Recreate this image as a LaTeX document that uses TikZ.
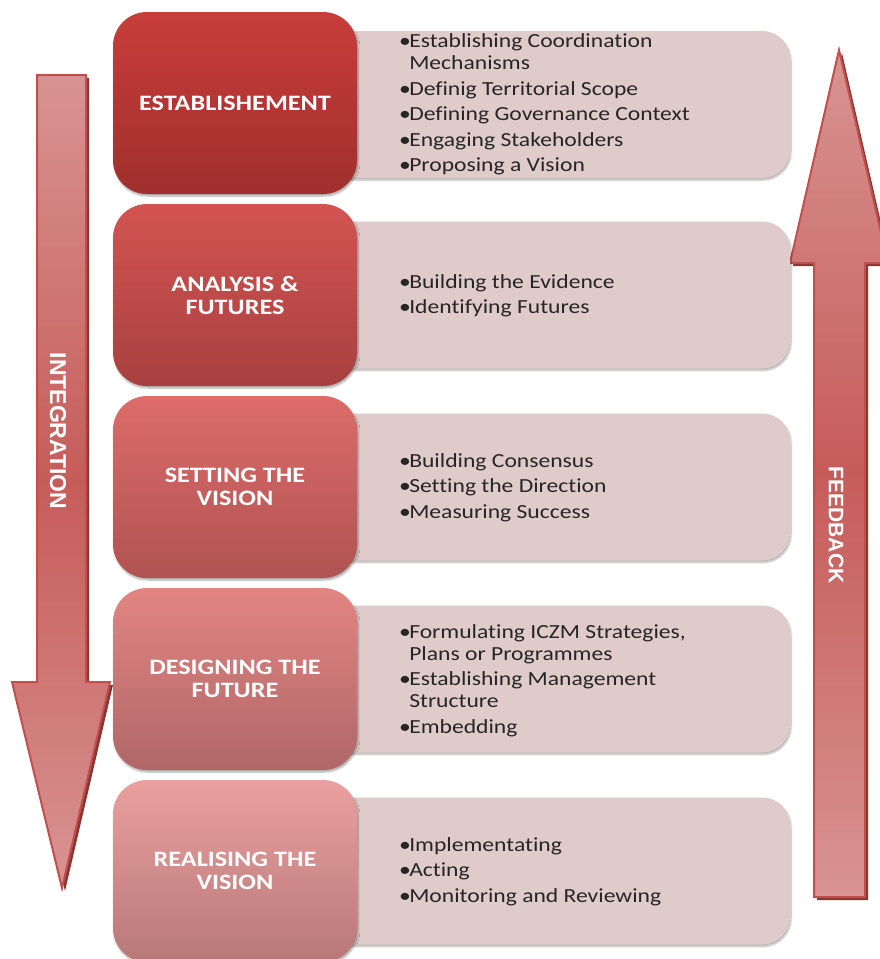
\documentclass[tikz,border=0pt]{standalone}
\usepackage{fontspec}
\setmainfont{Carlito}[Ligatures=NoCommon]
\newfontfamily\arialfont{Liberation Sans}
\usetikzlibrary{shadows.blur}
\definecolor{panelfill}{HTML}{E0CBCB}
\definecolor{txt}{HTML}{262626}
\definecolor{arrowedge}{HTML}{C0504D}
\definecolor{arrowdark}{HTML}{8B3432}
\definecolor{arlight}{HTML}{D89492}
\definecolor{armid}{HTML}{C65C5A}
\definecolor{bAt}{HTML}{C83D3B}\definecolor{bAb}{HTML}{A02F2D}
\definecolor{bBt}{HTML}{D35452}\definecolor{bBb}{HTML}{A84040}
\definecolor{bCt}{HTML}{DD6C6A}\definecolor{bCb}{HTML}{B05352}
\definecolor{bDt}{HTML}{E28583}\definecolor{bDb}{HTML}{B06767}
\definecolor{bEt}{HTML}{E9A09F}\definecolor{bEb}{HTML}{B87878}
\tikzset{
  stagebox/.style={rectangle, rounded corners=34pt, minimum width=244pt, minimum height=182pt,
    inner sep=0pt, draw=none, text=white, align=center,
    font=\fontsize{22}{23}\selectfont\bfseries,
    blur shadow={shadow xshift=1pt, shadow yshift=-2pt, shadow blur steps=6, shadow opacity=35}},
  panelbox/.style={rectangle, rounded corners=28pt, minimum width=490pt, minimum height=147pt,
    inner sep=0pt, fill=panelfill, draw=none,
    blur shadow={shadow xshift=1pt, shadow yshift=-2pt, shadow blur steps=6, shadow opacity=30}},
  paneltext/.style={anchor=west, align=left, text=txt, inner sep=0pt, xscale=1.18,
    font=\fontsize{20}{25.4}\selectfont},
  arrowshape/.style={draw=arrowedge, line width=2pt, line join=miter,
    top color=arlight, bottom color=arlight, middle color=armid},
  arrowshadow/.style={fill=arrowdark, draw=none},
  sidelabel/.style={text=white, font=\arialfont\bfseries, inner sep=0pt}
}
\newcommand{\bul}{\makebox[8.5pt][l]{•}}
\newcommand{\ind}{\hspace*{8.5pt}}
\newcommand{\sx}[1]{\scalebox{1.19}[1]{#1}}
\begin{document}
\begin{tikzpicture}[x=1pt,y=-1pt]
\useasboundingbox (0,0) rectangle (879,959);

% arrows (with dark offset shadow)
\fill[arrowshadow] (40,78) -- (89,78) -- (89,685) -- (113,685) -- (65,891) -- (15,685) -- (40,685) -- cycle;
\path[arrowshape] (37,75) -- (86,75) -- (86,682) -- (110,682) -- (62,888) -- (12,682) -- (37,682) -- cycle;
\fill[arrowshadow] (817,900) -- (868,900) -- (868,266) -- (891,266) -- (842,53) -- (793,266) -- (817,266) -- cycle;
\path[arrowshape] (814,897) -- (865,897) -- (865,263) -- (888,263) -- (839,50) -- (790,263) -- (814,263) -- cycle;
\node[sidelabel, rotate=-90, font=\arialfont\bfseries\fontsize{23}{24}\selectfont] (integ) at (58,431) {INTEGRATION};
\node[sidelabel, rotate=-90, font=\arialfont\bfseries\fontsize{21}{22}\selectfont] (feed) at (836,525) {FEEDBACK};

% panels
\node[panelbox] (p1) at (545,104.5) {};
\node[panelbox] (p2) at (545,295) {};
\node[panelbox] (p3) at (545,487) {};
\node[panelbox] (p4) at (545,679) {};
\node[panelbox] (p5) at (545,871) {};

% stage boxes
\node[stagebox, top color=bAt, bottom color=bAb] (s1) at (235,103) {\sx{ESTABLISHEMENT}};
\node[stagebox, top color=bBt, bottom color=bBb] (s2) at (235,295) {\sx{ANALYSIS \&}\\\sx{FUTURES}};
\node[stagebox, top color=bCt, bottom color=bCb] (s3) at (235,487) {\sx{SETTING THE}\\\sx{VISION}};
\node[stagebox, top color=bDt, bottom color=bDb] (s4) at (235,679) {\sx{DESIGNING THE}\\\sx{FUTURE}};
\node[stagebox, top color=bEt, bottom color=bEb] (s5) at (235,871) {\sx{REALISING THE}\\\sx{VISION}};

% panel texts
\node[paneltext] (t1) at (399,104.5) {\bul Establishing Coordination\\[-3.5pt]\ind Mechanisms\\\bul Definig Territorial Scope\\\bul Defining Governance Context\\\bul Engaging Stakeholders\\\bul Proposing a Vision};
\node[paneltext] (t2) at (399,295.5) {\bul Building the Evidence\\\bul Identifying Futures};
\node[paneltext] (t3) at (399,487.5) {\bul Building Consensus\\\bul Setting the Direction\\\bul Measuring Success};
\node[paneltext] (t4) at (399,680.5) {\bul Formulating ICZM Strategies,\\[-3.5pt]\ind Plans or Programmes\\\bul Establishing Management\\[-3.5pt]\ind Structure\\\bul Embedding};
\node[paneltext] (t5) at (399,871.5) {\bul Implementating\\\bul Acting\\\bul Monitoring and Reviewing};
\end{tikzpicture}
\end{document}
